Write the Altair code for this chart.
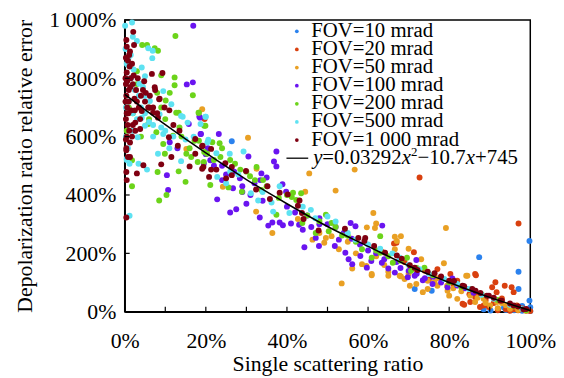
import altair as alt
import pandas as pd

FONT = "Liberation Serif"

series_names = ["FOV=10 mrad", "FOV=20 mrad", "FOV=50 mrad", "FOV=100 mrad",
                "FOV=200 mrad", "FOV=500 mrad", "FOV=1 000 mrad"]
series_colors = ["#2B82EE", "#D9400F", "#E9A024", "#6A14F0",
                 "#6CD41A", "#5EE2F2", "#7F0011"]

# (single scattering ratio %, relative error %)
fov_10 = [(26.4, 584), (71.5, 78), (75.7, 72), (87.4, 187), (90.2, 4), (92, 10), (94, 6),
          (96, 5), (97, 12), (97.1, 137), (97.1, 78), (98, 3), (98, 20), (99, 8),
          (99.8, 242), (99.8, 38), (100, 15), (100, 2), (88.5, 8), (93.5, 14), (95.5, 18)]

fov_20 = [(19.7, 660), (66.4, 234), (67.0, 236), (71.3, 204), (72.7, 460), (77.1, 146),
          (80.3, 129), (82.0, 106), (83.3, 27), (83.7, 24), (85.2, 33), (86.4, 50),
          (86.4, 129), (86.6, 125), (87.6, 16), (88.5, 21), (89.8, 16), (90.6, 84),
          (91.4, 101), (91.7, 67), (93.7, 89), (94.2, 16), (95.4, 84), (95.9, 67),
          (96.7, 21), (97.1, 302), (98.3, 8), (92, 5), (94, 8), (95, 3), (96, 8), (97, 5),
          (98, 12), (99, 3), (100, 2), (89, 40), (91, 30), (93, 45), (85, 60), (87, 55),
          (81, 95), (78, 118), (74, 140), (69, 170), (75, 110), (63.5, 205)]

fov_50 = [(19.1, 694), (30.4, 596), (15.2, 558), (32.4, 343), (24.2, 428), (32.5, 490),
          (45.5, 474), (56.7, 487), (52.0, 415), (44.5, 411), (61.3, 338), (62.0, 302),
          (61.7, 287), (59.7, 289), (42.7, 318), (46.3, 247), (52.8, 214), (49.2, 236),
          (51.0, 259), (49.6, 253), (58.5, 163), (60.9, 129), (65.0, 137), (66.6, 214),
          (66.6, 257), (67.1, 242), (70.0, 216), (73.1, 180), (79.2, 287), (53.5, 97),
          (60.9, 125), (59.6, 157), (56.1, 148), (65.0, 123), (68.1, 121), (70.3, 89),
          (71.9, 95), (74.7, 106), (73.5, 67), (77.1, 89), (79.6, 72), (80.0, 55),
          (84.5, 123), (88.5, 44), (91.8, 33), (78.7, 166), (84.2, 123), (67.8, 123),
          (69.0, 112), (68.1, 259), (86.4, 33), (90.1, 21), (82.0, 44), (85.2, 55),
          (79.5, 89), (76.4, 101), (74.7, 78), (93, 30), (95, 10), (97, 6), (99, 3),
          (96, 18), (94, 22), (92, 12), (89, 30), (87, 48), (83, 70), (81, 80), (77, 115),
          (72, 140), (70, 130), (64, 160), (62, 190), (57, 200), (55, 240), (48, 270),
          (36.4, 270)]

fov_100 = [(16.9, 980), (15.3, 779), (16.8, 786), (18.4, 668), (18.6, 665), (15.8, 643),
           (18.8, 609), (11.1, 581), (10.4, 468), (10.7, 417), (23.2, 609), (18.7, 609),
           (37.4, 549), (36.8, 515), (37.4, 498), (30.5, 532), (33.7, 474), (35.0, 460),
           (33.4, 451), (38.9, 437), (39.8, 411), (22.8, 385), (26.7, 423), (26.0, 340),
           (27.5, 351), (33.3, 323), (35.4, 295), (36.4, 306), (38.2, 306), (39.0, 296),
           (41.0, 302), (43.0, 298), (28.4, 457), (24.0, 451), (19.5, 507), (21.1, 519),
           (43.9, 281), (44.3, 221), (47.9, 225), (47.1, 253), (51.8, 225), (54.4, 202),
           (55.2, 180), (56.1, 163), (58.1, 191), (59.7, 151), (60.8, 174), (63.4, 168),
           (63.5, 295), (65.0, 148), (66.6, 134), (52.8, 247), (56.9, 293), (55.7, 304),
           (54.0, 270), (69.8, 118), (71.5, 123), (73.5, 108), (75.9, 95), (80.8, 114),
           (79.6, 84), (71.9, 177), (45, 330), (48, 320), (50, 300), (46, 290), (42, 340),
           (40, 360), (34, 380), (31, 400), (29, 430), (25, 470), (22, 500), (20, 540),
           (20.5, 560), (27, 480), (32, 440), (48, 300), (52, 290), (56, 250), (58, 230),
           (60, 210), (62, 200), (64, 180), (67, 170), (68, 150), (70, 140), (72, 130),
           (74, 115), (76, 120), (78, 100), (82, 90), (84, 80), (86, 65), (29, 410),
           (30, 370), (24, 500), (13, 560)]

fov_200 = [(4.3, 914), (5.5, 914), (7.4, 903), (8.2, 894), (12.5, 945), (12.3, 803),
           (12.3, 776), (16.8, 742), (11.1, 750), (10.1, 724), (3.0, 824), (13.3, 682),
           (18.2, 682), (7.8, 615), (9.5, 575), (9.9, 541), (8.1, 479), (10.3, 400),
           (8.5, 381), (15.0, 445), (13.3, 481), (16.4, 530), (18.0, 513), (1.8, 430),
           (1.8, 519), (13.5, 631), (11.9, 603), (5.8, 643), (12.7, 682), (19.6, 637),
           (17.2, 586), (15.2, 541), (19.6, 547), (18.3, 682), (19.9, 637), (18.3, 586),
           (21.6, 581), (23.4, 577), (20.3, 541), (19.5, 513), (23.6, 530), (27.2, 507),
           (28.5, 487), (30.9, 464), (32.5, 496), (32.1, 451), (21.1, 434), (25.6, 426),
           (28.9, 411), (34.1, 451), (33.7, 417), (37.4, 332), (41.5, 408), (41.2, 393),
           (43.5, 406), (42.3, 383), (43.8, 304), (49.6, 332), (51.0, 304), (50.3, 276),
           (53.6, 261), (58.5, 214), (60.9, 185), (63.0, 202), (66.1, 168), (63.0, 259),
           (47.1, 270), (69.6, 185), (70.6, 140), (73.9, 151), (85.5, 77), (1, 700),
           (2, 680), (0.5, 620), (4, 600), (6, 660), (9, 700), (10, 660), (14, 600),
           (16, 560), (22, 520), (24, 560), (26, 520), (30, 480), (35, 430), (38, 390),
           (40, 400), (45, 330), (48, 310), (52, 290), (55, 260), (57, 240), (62, 210),
           (65, 190), (68, 175), (72, 150), (76, 125), (80, 100), (83, 85), (88, 60),
           (92, 40), (96, 20), (99, 5), (3, 780), (6, 700), (8, 750), (9, 810)]

fov_500 = [(0.1, 980), (1.8, 991), (2.0, 942), (3.0, 928), (5.8, 903), (6.9, 894),
           (6.8, 869), (4.2, 837), (5.0, 807), (3.6, 781), (2.2, 830), (0.9, 869),
           (0.7, 846), (9.5, 756), (11.5, 711), (6.2, 722), (5.0, 739), (8.6, 677),
           (14.3, 668), (20.0, 668), (4.2, 665), (5.0, 637), (3.2, 598), (8.2, 541),
           (1.2, 507), (3.4, 507), (5.5, 487), (0.5, 524), (1.2, 329), (9.5, 609),
           (9.0, 631), (13.9, 671), (15.5, 648), (13.9, 516), (20.4, 581), (19.9, 668),
           (18.7, 643), (20.6, 589), (25.9, 541), (29.3, 549), (22.6, 543), (22.8, 462),
           (25.0, 440), (31.1, 406), (32.9, 381), (36.2, 374), (38.2, 430), (40.6, 338),
           (43.9, 360), (36.6, 343), (45.9, 349), (50.0, 326), (52.0, 309), (56.9, 247),
           (63.0, 216), (67.8, 185), (72.7, 146), (78.8, 112), (84.9, 78), (91.0, 44),
           (0.3, 700), (1, 720), (2, 680), (3, 660), (4, 700), (5, 680), (6, 650), (7, 640),
           (3.5, 740), (2.5, 760), (1.5, 800), (0.5, 850), (1.5, 880), (4.5, 770), (7, 600),
           (10, 620), (12, 600), (11, 560), (15, 590), (17, 600), (0.8, 560), (0.3, 600),
           (2, 620), (26, 480), (28, 470), (34, 410), (47, 320), (55, 270), (60, 230),
           (66, 200), (70, 160), (75, 130), (82, 95), (88, 58), (95, 24), (98, 10),
           (0.2, 900), (0.5, 520)]

fov_1000 = [(0.4, 931), (2.1, 959), (0.5, 908), (2.3, 914), (1.3, 892), (6.7, 815),
            (9.3, 818), (7.4, 769), (5.2, 750), (8.5, 728), (6.2, 699), (4.2, 688),
            (0.5, 451), (0.4, 323), (0.4, 479), (3.0, 474), (4.6, 502), (1.3, 530),
            (0.4, 553), (0.3, 590), (9.0, 505), (11.5, 530), (13.1, 569), (16.0, 498),
            (17.4, 541), (19.4, 496), (19.2, 569), (17.4, 592), (10.9, 598), (3.8, 626),
            (2.6, 648), (8.2, 665), (7.0, 682), (19.1, 567), (19.1, 490), (21.3, 558),
            (21.3, 487), (22.6, 487), (24.8, 509), (25.0, 457), (26.4, 468), (26.4, 496),
            (29.9, 482), (20.8, 462), (32.4, 419), (35.2, 430), (35.8, 386), (38.2, 408),
            (40.2, 402), (43.1, 381), (42.7, 363), (44.1, 318), (43.7, 338), (47.8, 278),
            (54.3, 284), (59.1, 242), (64.2, 202), (57.6, 253), (59.3, 253), (61.5, 225),
            (67.1, 193), (68.3, 182), (70.3, 159), (71.5, 151), (72.2, 143), (74.7, 137),
            (76.4, 132), (78.0, 121), (80.0, 106), (81.2, 105), (83.3, 89), (83.7, 87),
            (85.7, 78), (86.5, 72), (87.7, 64), (89.3, 55), (89.8, 55), (91.0, 48),
            (92.6, 38), (93, 38), (95, 28), (95.9, 21), (97, 18), (98.3, 8), (99, 9),
            (0.3, 780), (0.5, 820), (0.8, 860), (1.2, 840), (0.4, 740), (0.6, 700),
            (1.0, 760), (1.5, 800), (2.0, 780), (0.3, 660), (0.7, 640), (1.1, 620),
            (0.5, 600), (1.6, 690), (2.4, 730), (2.8, 760), (3.2, 800), (1.8, 850),
            (0.2, 720), (0.9, 680), (1.3, 580), (0.4, 560), (2.0, 640), (3.5, 700),
            (4.0, 740), (2.5, 690), (1.0, 720), (0.6, 790), (1.4, 770), (0.2, 800),
            (2.2, 810), (3.0, 720), (4.5, 760), (0.8, 530), (1.8, 600), (0.3, 870),
            (1.1, 880), (2.6, 620), (0.5, 680), (3.8, 660), (5.0, 720), (5.8, 700),
            (7.0, 700), (6.2, 740), (8.6, 730), (9.8, 700), (11.0, 690), (8.0, 680),
            (12.0, 640), (13.5, 620), (7.5, 760), (4.8, 790)]

# fitted curve
fit_x = [0, 10, 20, 30, 40, 50, 60, 70, 80, 90, 100]
fit_y = [745, 641, 544, 453, 370, 292, 224, 157, 100, 49, 4]

x_tick_values = [0, 10, 20, 30, 40, 50, 60, 70, 80, 90, 100]
x_label_values = [0, 20, 40, 60, 80, 100]
y_label_values = [0, 200, 400, 600, 800, 1000]

all_series = [fov_10, fov_20, fov_50, fov_100, fov_200, fov_500, fov_1000]
rows = []
for name, pts in zip(series_names, all_series):
    for (px, py) in pts:
        rows.append({"series": name, "x": px, "y": py})
points_df = pd.DataFrame(rows)
fit_df = pd.DataFrame({"x": fit_x, "y": fit_y})

W, H = 410, 295

xscale = alt.Scale(domain=[0, 100], nice=False, zero=False)
yscale = alt.Scale(domain=[0, 1000], nice=False)

x_axis = alt.Axis(values=x_label_values, labelExpr="datum.value + '%'",
                  title="Single scattering ratio", labelPadding=19, titlePadding=2,
                  labelFlush=False)
y_axis = alt.Axis(values=y_label_values,
                  labelExpr="datum.value == 1000 ? '1 000%' : datum.value + '%'",
                  title="Depolarization ratio relative error", labelPadding=9,
                  titlePadding=12, labelFlush=False)

points = alt.Chart(points_df).mark_circle(size=36, opacity=1).encode(
    x=alt.X("x:Q", scale=xscale, axis=x_axis),
    y=alt.Y("y:Q", scale=yscale, axis=y_axis),
    color=alt.Color("series:N", scale=alt.Scale(domain=series_names, range=series_colors),
                    legend=None),
)

fit = alt.Chart(fit_df).mark_line(color="black", strokeWidth=1.5, interpolate="monotone").encode(
    x=alt.X("x:Q", scale=xscale, axis=x_axis),
    y=alt.Y("y:Q", scale=yscale, axis=y_axis),
)

xt_df = pd.DataFrame({"x": x_tick_values})
xticks = alt.Chart(xt_df).mark_rule(color="black", strokeWidth=1.2).encode(
    x=alt.X("x:Q", scale=xscale, axis=x_axis),
    y=alt.value(H), y2=alt.value(H - 5),
)
yt_df = pd.DataFrame({"y": y_label_values})
yticks = alt.Chart(yt_df).mark_rule(color="black", strokeWidth=1.2).encode(
    y=alt.Y("y:Q", scale=yscale, axis=y_axis),
    x=alt.value(0), x2=alt.value(5),
)

one = alt.Data(values=[{"k": 1}])
legend_layers = []
LX_DOT, LX_TEXT, ROW0, STEP = 174, 188.5, 17.0, 18.33
for i, (name, col) in enumerate(zip(series_names, series_colors)):
    yb = ROW0 + STEP * i
    legend_layers.append(alt.Chart(one).mark_circle(size=14, color=col, opacity=1).encode(
        x=alt.value(LX_DOT), y=alt.value(yb - 5.5)))
    legend_layers.append(alt.Chart(one).mark_text(
        font=FONT, fontSize=21, align="left", baseline="alphabetic", color="black").encode(
        x=alt.value(LX_TEXT), y=alt.value(yb), text=alt.value(name)))

yb = ROW0 + STEP * 7
legend_layers.append(alt.Chart(one).mark_rule(color="black", strokeWidth=1.3).encode(
    x=alt.value(163.5), x2=alt.value(185.5), y=alt.value(yb - 5.5)))
pieces = [("y", 190.5, 21, "italic", 0), ("=0.03292", 199.8, 21, "normal", 0),
          ("x", 280.0, 21, "italic", 0), ("2", 289.5, 13, "normal", -8),
          ("\u221210.7", 296.0, 21, "normal", 0), ("x", 344.8, 21, "italic", 0),
          ("+745", 354.2, 21, "normal", 0)]
for txt, px, fs, st, dy in pieces:
    legend_layers.append(alt.Chart(one).mark_text(
        font=FONT, fontSize=fs, fontStyle=st, align="left", baseline="alphabetic",
        color="black").encode(x=alt.value(px), y=alt.value(yb + dy), text=alt.value(txt)))

chart = alt.layer(points, fit, xticks, yticks, *legend_layers).properties(
    width=W, height=H,
    autosize=alt.AutoSizeParams(type="none"),
    padding={"left": 118, "top": 10, "right": 26, "bottom": 66},
).configure_axis(
    labelFont=FONT, labelFontSize=22, labelColor="black",
    titleFont=FONT, titleFontSize=22, titleFontWeight="normal", titleColor="black",
    domainColor="black", domainWidth=1.5, ticks=False, grid=False,
).configure_view(stroke="black", strokeWidth=1.5)

chart.save("out.html", embed_options={"renderer": "svg", "actions": False})
